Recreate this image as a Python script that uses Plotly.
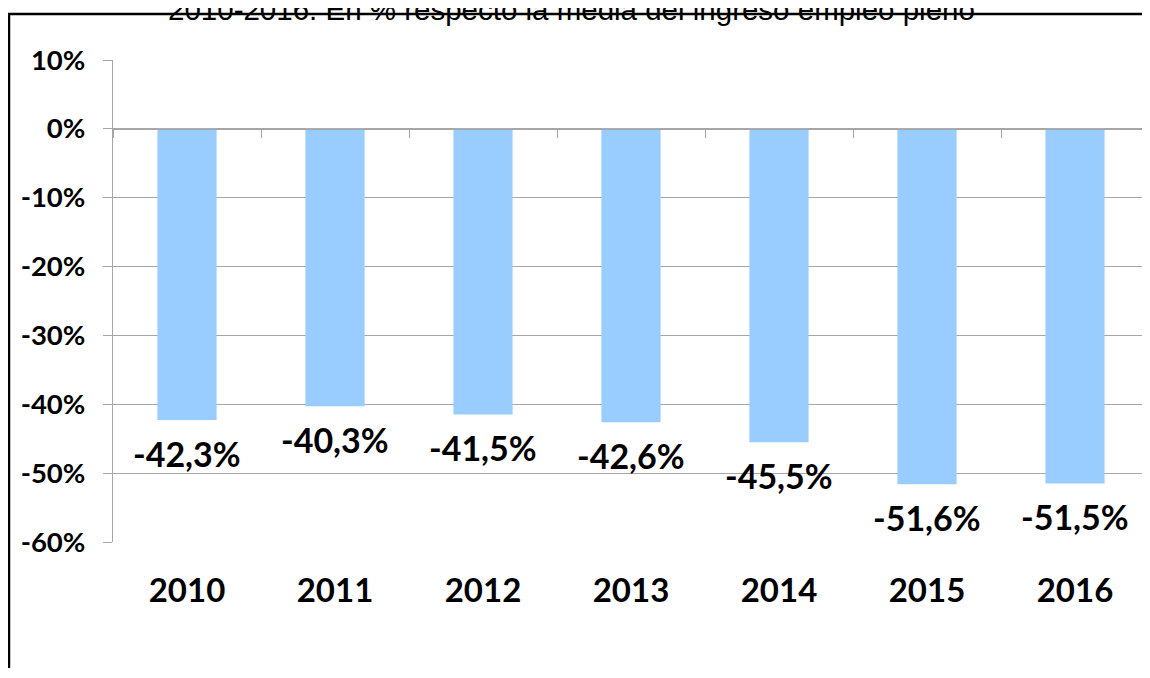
import plotly.graph_objects as go

# -----------------------------------------------------------------------------
# Data
# -----------------------------------------------------------------------------

years = ["2010", "2011", "2012", "2013", "2014", "2015", "2016"]
values = [-42.3, -40.3, -41.5, -42.6, -45.5, -51.6, -51.5]
y_tick_vals = [10, 0, -10, -20, -30, -40, -50, -60]
y_tick_text = ["10%", "0%", "-10%", "-20%", "-30%", "-40%", "-50%", "-60%"]
title_text = "2010-2016. En % respecto la media del ingreso empleo pleno"

labels = [f"{v:.1f}".replace(".", ",") + "%" for v in values]

# -----------------------------------------------------------------------------
# Figure
# -----------------------------------------------------------------------------

BAR = "#99CCFF"
GRID = "#A6A6A6"
FONT = "Lato"

fig = go.Figure(
    go.Bar(
        x=years,
        y=values,
        marker=dict(color=BAR, line=dict(width=0)),
        width=0.4,
        hoverinfo="skip",
    )
)

# data labels under each bar (x given as category index)
for i, (v, lab) in enumerate(zip(values, labels)):
    fig.add_annotation(
        x=i, y=v, xref="x", yref="y",
        text="<b>" + lab + "</b>", showarrow=False,
        yanchor="middle", yshift=-33,
        font=dict(family=FONT, size=34, color="black"),
    )

# title, partly cut at the top of the page
fig.add_annotation(
    x=0.443, y=1.104, xref="paper", yref="paper",
    text=title_text, showarrow=False,
    xanchor="center", yanchor="middle",
    font=dict(family="Liberation Sans, Arial", size=29.5, color="black"),
)

# outer frame
fig.add_shape(
    type="rect", xref="paper", yref="paper",
    x0=-0.1004, x1=1.2, y0=-0.5, y1=1.0954,
    line=dict(color="black", width=2.5),
    fillcolor="rgba(0,0,0,0)",
)

# the page keeps an 8px body margin, so the figure is made smaller to avoid scrollbars
fig.update_layout(
    width=1142,
    height=660,
    margin=dict(l=105, r=1, t=52, b=126, autoexpand=False),
    paper_bgcolor="white",
    plot_bgcolor="white",
    showlegend=False,
    xaxis=dict(
        type="category",
        range=[-0.5, len(years) - 0.5],
        automargin=False,
        anchor="free",
        position=6 / 7,
        showgrid=False,
        showline=True,
        linecolor=GRID,
        linewidth=1.3,
        zeroline=False,
        ticks="outside",
        tickson="boundaries",
        ticklen=8,
        tickcolor=GRID,
        tickwidth=1.3,
        tickangle=0,
        ticklabelstandoff=432,
        tickfont=dict(family=FONT, size=33, color="black", weight="bold"),
    ),
    yaxis=dict(
        automargin=False,
        range=[-60, 10],
        tickvals=y_tick_vals,
        ticktext=y_tick_text,
        ticks="outside",
        ticklen=9,
        tickcolor=GRID,
        tickwidth=1.3,
        showline=True,
        linecolor=GRID,
        linewidth=1.3,
        gridcolor=GRID,
        gridwidth=1.3,
        zeroline=False,
        ticklabelstandoff=12,
        tickfont=dict(family=FONT, size=27.5, color="black", weight="bold"),
    ),
)

fig.write_html("out.html")
